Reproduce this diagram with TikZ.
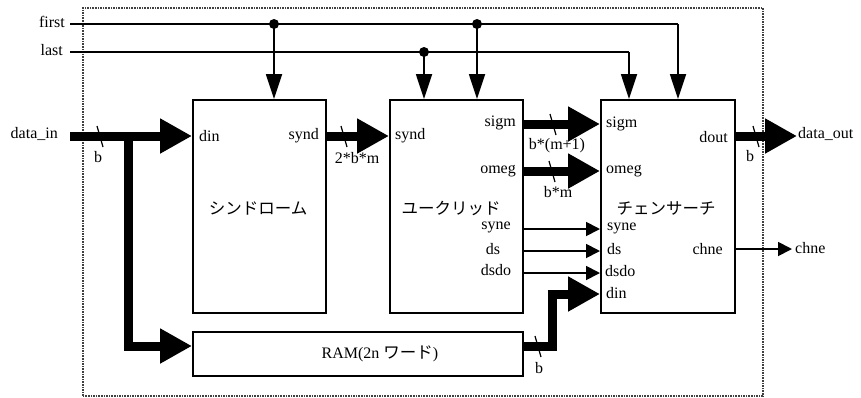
\documentclass[tikz,border=0pt]{standalone}
\usepackage{fontspec}
\setmainfont{Liberation Serif}
\newfontfamily\jp{Noto Sans CJK JP}
\usetikzlibrary{arrows.meta}
\begin{document}
\begin{tikzpicture}[x=1pt,y=-1pt, font=\fontsize{16}{18}\selectfont,
  blk/.style={draw, line width=1.8pt, anchor=north west, inner sep=0pt, minimum height=213pt},
  wire/.style={line width=1.8pt},
  ctlarr/.style={wire, -{Triangle[length=25pt,width=16pt]}},
  sigarr/.style={wire, -{Triangle[length=14pt,width=14pt]}},
  bus/.style={line width=9pt, -{Triangle[length=32pt,width=33pt]}},
  busline/.style={line width=9pt},
  tick/.style={line width=1.2pt},
  dot/.style={circle, fill, inner sep=0pt, minimum size=10pt},
  lbl/.style={inner sep=0pt},
  jplbl/.style={inner sep=0pt, font=\fontsize{16.5}{18}\jp},
]
\useasboundingbox (0,0) rectangle (861,397);
% frame
\node[draw, densely dotted, line width=1.6pt, black!75, anchor=north west, minimum width=680pt, minimum height=388pt, inner sep=0pt] (frame) at (82,7) {};

% blocks
\node[blk, minimum width=133pt] (b1) at (192,99) {};
\node[blk, minimum width=133pt] (b2) at (389,99) {};
\node[blk, minimum width=134pt] (b3) at (600,99) {};
\node[blk, minimum width=330pt, minimum height=44pt] (ram) at (192,331) {};

% block texts
\node[jplbl] (t1) at (258,208) {シンドローム};
\node[jplbl] (t2) at (451,208) {ユークリッド};
\node[jplbl] (t3) at (666,208) {チェンサーチ};
\node[lbl] (tram) at (380,354) {RAM(2n {\jp\fontsize{16.5}{18}\selectfont ワード})};

% port labels block 1
\node[lbl, anchor=west] (p1din) at (199,136) {din};
\node[lbl, anchor=east] (p1synd) at (319,136) {synd};
% block 2
\node[lbl, anchor=west] (p2synd) at (395,136) {synd};
\node[lbl, anchor=east] (p2sigm) at (516,123) {sigm};
\node[lbl, anchor=east] (p2omeg) at (516,171) {omeg};
\node[lbl] (p2syne) at (496,227) {syne};
\node[lbl] (p2ds) at (493,249) {ds};
\node[lbl] (p2dsdo) at (496,270) {dsdo};
% block 3
\node[lbl, anchor=west] (p3sigm) at (606,124) {sigm};
\node[lbl, anchor=west] (p3omeg) at (606,171) {omeg};
\node[lbl, anchor=east] (p3dout) at (728,137) {dout};
\node[lbl, anchor=west] (p3syne) at (607,228) {syne};
\node[lbl, anchor=west] (p3ds) at (607,249) {ds};
\node[lbl, anchor=west] (p3dsdo) at (605,271) {dsdo};
\node[lbl, anchor=west] (p3din) at (606,293) {din};
\node[lbl, anchor=east] (p3chne) at (723,249) {chne};

% external labels
\node[lbl, anchor=east] (lfirst) at (65,22) {first};
\node[lbl, anchor=east] (llast) at (63,50) {last};
\node[lbl, anchor=east] (lin) at (58,134) {data\_in};
\node[lbl, anchor=west] (lout) at (798,134) {data\_out};
\node[lbl, anchor=west] (lchne) at (795,248) {chne};

% coordinates
\coordinate (fs) at (70,24);
\coordinate (ls) at (70,52);
\coordinate (fe) at (678,24);
\coordinate (le) at (629,52);
\coordinate (ins) at (70,136);
\coordinate (br) at (128,136);

% first / last
\draw[wire] (fs) -- (fe);
\draw[ctlarr] (fe) -- (fe |- b3.north);
\draw[wire] (ls) -- (le);
\draw[ctlarr] (le) -- (le |- b3.north);
\node[dot] (d1) at (274,24) {};
\node[dot] (d2) at (477,24) {};
\node[dot] (d3) at (424,52) {};
\draw[ctlarr] (d1.center) -- (d1 |- b1.north);
\draw[ctlarr] (d2.center) -- (d2 |- b2.north);
\draw[ctlarr] (d3.center) -- (d3 |- b2.north);

% data_in
\draw[bus] (ins) -- (b1.west |- ins);
\draw[busline] (br) -- (128,346);
\draw[bus] (124,346) -- (ram.west |- 0,346);
\draw[tick] (97,126) -- ++(6,21);
\node[lbl] (w1) at (98,157) {b};

% synd
\draw[bus] (b1.east |- p1synd) -- (b2.west |- p1synd);
\draw[tick] (341,126) -- ++(6,21);
\node[lbl] (w2) at (357,158) {2*b*m};

% sigm / omeg
\draw[bus] (b2.east |- p3sigm) -- (b3.west |- p3sigm);
\draw[tick] (550,114) -- ++(6,21);
\node[lbl] (w3) at (557,146) {b*(m+1)};
\draw[bus] (b2.east |- p3omeg) -- (b3.west |- p3omeg);
\draw[tick] (549,161) -- ++(6,21);
\node[lbl] (w4) at (558,192) {b*m};

% dout
\coordinate (oe) at (797,136);
\draw[bus] (b3.east |- oe) -- (oe);
\draw[tick] (753,126) -- ++(6,21);
\node[lbl] (w5) at (750,156) {b};

% syne ds dsdo
\draw[sigarr] (b2.east |- 0,229) -- (b3.west |- 0,229);
\draw[sigarr] (b2.east |- 0,251) -- (b3.west |- 0,251);
\draw[sigarr] (b2.east |- 0,273) -- (b3.west |- 0,273);

% chne
\coordinate (ce) at (792,249);
\draw[sigarr] (b3.east |- ce) -- (ce);

% RAM -> din
\draw[busline] (ram.east |- 0,346) -- (552,346) -- (552,290);
\draw[bus] (547.5,294) -- (b3.west |- 0,294);
\draw[tick] (535,336) -- ++(6,21);
\node[lbl] (w6) at (539,368) {b};
\end{tikzpicture}
\end{document}
